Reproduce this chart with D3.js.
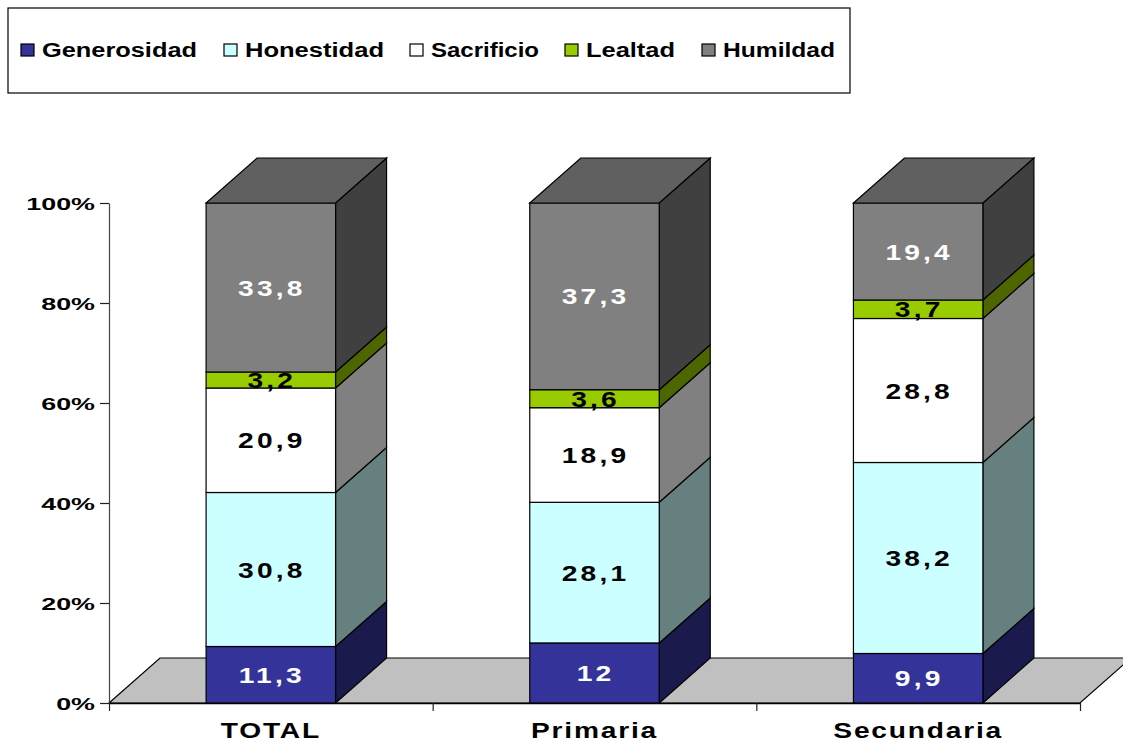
<!DOCTYPE html>
<html>
<head>
<meta charset="utf-8">
<script src="https://cdn.jsdelivr.net/npm/d3@7"></script>
<style>
  html, body { margin: 0; padding: 0; background: #fff; }
  svg { display: block; }
  text { font-family: "Liberation Sans", Arial, sans-serif; font-weight: bold; fill: #000; }
</style>
</head>
<body>
<div id="chart"></div>
<script>
// data
const categories = ["TOTAL", "Primaria", "Secundaria"];
const seriesNames = ["Generosidad", "Honestidad", "Sacrificio", "Lealtad", "Humildad"];
const generosidad = [11.3, 12, 9.9];
const honestidad = [30.8, 28.1, 38.2];
const sacrificio = [20.9, 18.9, 28.8];
const lealtad = [3.2, 3.6, 3.7];
const humildad = [33.8, 37.3, 19.4];
const yTicks = [0, 0.2, 0.4, 0.6, 0.8, 1];

const frontColors = ["#333399", "#CCFFFF", "#FFFFFF", "#99CC00", "#808080"];
const sideColors = ["#1A1A4D", "#668080", "#808080", "#4D6600", "#404040"];
const labelColors = ["#fff", "#000", "#000", "#000", "#fff"];
const topColor = "#606060";

const width = 1123;
const height = 742;
const plotLeft = 109, plotRight = 1080, plotTop = 203, plotBottom = 703;
const depthX = 51, depthY = 45;   // fake 3d offset
const stretch = 1.28;             // original text is wide, stretch it

const svg = d3.select("#chart").append("svg")
    .attr("width", width)
    .attr("height", height);

const rows = categories.map((c, i) => ({
    category: c,
    Generosidad: generosidad[i],
    Honestidad: honestidad[i],
    Sacrificio: sacrificio[i],
    Lealtad: lealtad[i],
    Humildad: humildad[i]
}));

// 100% stack
const stacked = d3.stack().keys(seriesNames).offset(d3.stackOffsetExpand)(rows);

const x = d3.scaleBand()
    .domain(categories)
    .range([plotLeft, plotRight])
    .paddingInner(0.6)
    .paddingOuter(0.3);

const xEdges = d3.scaleLinear().domain([0, categories.length]).range([plotLeft, plotRight]);

const y = d3.scaleLinear().domain([0, 1]).range([plotBottom, plotTop]);

// floor
svg.append("path")
    .attr("d", d3.line()([
        [plotLeft, plotBottom], [plotLeft + depthX, plotBottom - depthY],
        [plotRight + depthX, plotBottom - depthY], [plotRight, plotBottom]
    ]) + "Z")
    .attr("fill", "#C0C0C0")
    .attr("stroke", "#000")
    .attr("stroke-width", 1.2);

// axes
const yAxis = svg.append("g")
    .attr("transform", `translate(${plotLeft},0)`)
    .call(d3.axisLeft(y).tickValues(yTicks).tickFormat(d3.format(".0%")).tickSize(9).tickSizeOuter(0));
yAxis.select(".domain").attr("stroke", "#444").attr("stroke-width", 1.2);
yAxis.selectAll(".tick line").attr("stroke", "#222").attr("stroke-width", 1.2);
yAxis.selectAll(".tick text")
    .attr("x", null).attr("dy", null)
    .style("font-size", "17px")
    .attr("text-anchor", "end")
    .attr("transform", "translate(-14,6.5) scale(1.58,1)");

const xTickAxis = svg.append("g")
    .attr("transform", `translate(0,${plotBottom})`)
    .call(d3.axisBottom(xEdges).ticks(categories.length).tickFormat("").tickSize(8).tickSizeOuter(0));
xTickAxis.select(".domain").attr("stroke", "#000").attr("stroke-width", 1.4);
xTickAxis.selectAll(".tick line").attr("stroke", "#222").attr("stroke-width", 1.2);

const xLabels = svg.append("g")
    .attr("transform", `translate(0,${plotBottom})`)
    .call(d3.axisBottom(x).tickSize(0));
xLabels.select(".domain").remove();
xLabels.selectAll(".tick text")
    .attr("y", null).attr("dy", null)
    .style("font-size", "22px")
    .attr("letter-spacing", 1.4)
    .attr("text-anchor", "middle")
    .attr("transform", `translate(0,35) scale(${stretch},1)`);

// bars, one series at a time from the bottom up
const layers = svg.append("g").selectAll("g")
    .data(stacked)
    .join("g");

const segs = layers.selectAll("g")
    .data(d => d.map(p => ({ p: p, s: d.index })))
    .join("g");

segs.append("path")   // right side
    .attr("d", d => {
        const x1 = x(d.p.data.category) + x.bandwidth();
        return d3.line()([
            [x1, y(d.p[0])], [x1 + depthX, y(d.p[0]) - depthY],
            [x1 + depthX, y(d.p[1]) - depthY], [x1, y(d.p[1])]
        ]) + "Z";
    })
    .attr("fill", d => sideColors[d.s])
    .attr("stroke", "#000")
    .attr("stroke-width", 1.2);

segs.append("rect")   // front
    .attr("x", d => x(d.p.data.category))
    .attr("y", d => y(d.p[1]))
    .attr("width", x.bandwidth())
    .attr("height", d => y(d.p[0]) - y(d.p[1]))
    .attr("fill", d => frontColors[d.s])
    .attr("stroke", "#000")
    .attr("stroke-width", 1.2);

// top of the column
svg.append("g").selectAll("path")
    .data(stacked[stacked.length - 1])
    .join("path")
    .attr("d", d => {
        const x0 = x(d.data.category), x1 = x0 + x.bandwidth(), yt = y(d[1]);
        return d3.line()([
            [x0, yt], [x0 + depthX, yt - depthY],
            [x1 + depthX, yt - depthY], [x1, yt]
        ]) + "Z";
    })
    .attr("fill", topColor)
    .attr("stroke", "#000")
    .attr("stroke-width", 1.2);

// value labels, after all bars so thin segments are not covered
svg.append("g").selectAll("text")
    .data(stacked.flatMap(layer => layer.map(p => ({ p: p, s: layer.index }))))
    .join("text")
    .text(d => String(d.p.data[seriesNames[d.s]]).replace(".", ","))
    .attr("text-anchor", "middle")
    .attr("letter-spacing", 2.5)
    .style("font-size", "22px")
    .style("fill", d => labelColors[d.s])
    .attr("transform", d => {
        const cx = x(d.p.data.category) + x.bandwidth() / 2 + 1;
        const cy = (y(d.p[0]) + y(d.p[1])) / 2 + 8;
        return `translate(${cx},${cy}) scale(${stretch},1)`;
    });

// legend
const legendBox = svg.append("g");
legendBox.append("rect")
    .attr("x", 8).attr("y", 8)
    .attr("width", 842).attr("height", 85)
    .attr("fill", "#fff")
    .attr("stroke", "#000")
    .attr("stroke-width", 1.2);

const legendX = d3.scaleOrdinal().domain(seriesNames).range([21, 224, 410, 565, 702]);
const legendTextWidth = d3.scaleOrdinal().domain(seriesNames).range([155, 139, 108, 89, 112]);

const legendItem = legendBox.selectAll("g")
    .data(seriesNames)
    .join("g")
    .attr("transform", d => `translate(${legendX(d)},44)`);

legendItem.append("rect")
    .attr("width", 13).attr("height", 12)
    .attr("fill", (d, i) => frontColors[i])
    .attr("stroke", "#000")
    .attr("stroke-width", 1.2);

legendItem.append("text")
    .text(d => d)
    .style("font-size", "19.5px")
    .attr("textLength", d => legendTextWidth(d) / stretch)
    .attr("lengthAdjust", "spacingAndGlyphs")
    .attr("transform", `translate(21,13) scale(${stretch},1)`);
</script>
</body>
</html>
